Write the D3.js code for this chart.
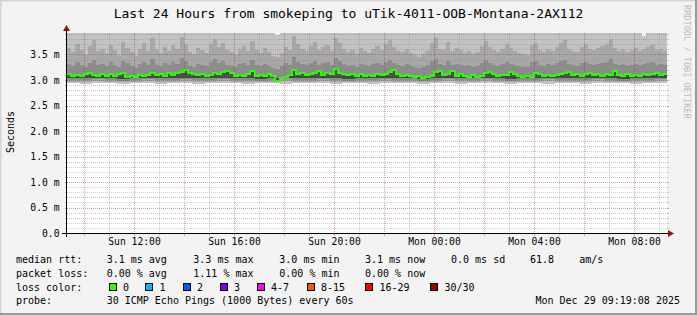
<!DOCTYPE html>
<html>
<head>
<meta charset="utf-8">
<script src="https://cdn.jsdelivr.net/npm/d3@7"></script>
<style>
html, body { margin: 0; padding: 0; background: #f3f3f3; }
svg { display: block; font-family: "DejaVu Sans Mono", monospace; }
</style>
</head>
<body>
<div id="chart"></div>
<script>
// ---- data ----
const title = 'Last 24 Hours from smokeping to uTik-4011-OOB-Montana-2AX112';
const startTime = '2025-12-28T09:19:08Z';
const endTime = '2025-12-29T09:19:08Z';
const stampText = 'Mon Dec 29 09:19:08 2025';

// median rtt in ms, one value per 10 minutes
const medianRtt = [
  3.11,3.08,3.10,3.07,3.11,3.14,3.10,3.08,3.11,3.08,
  3.12,3.08,3.11,3.14,3.06,3.08,3.05,3.09,3.07,3.10,
  3.14,3.09,3.11,3.08,3.13,3.10,3.13,3.16,3.20,3.14,
  3.12,3.09,3.11,3.08,3.10,3.14,3.11,3.15,3.17,3.13,
  3.07,3.10,3.08,3.12,3.17,3.08,3.10,3.07,3.11,3.07,
  2.99,3.03,3.06,3.10,3.19,3.11,3.13,3.10,3.12,3.14,
  3.17,3.09,3.13,3.11,3.22,3.14,3.11,3.09,3.11,3.07,
  3.11,3.08,3.10,3.08,3.11,3.09,3.12,3.15,3.19,3.11,
  3.08,3.10,3.07,3.05,3.07,3.03,3.06,3.08,3.15,3.18,
  3.10,3.12,3.17,3.08,3.11,3.08,3.06,3.09,3.05,3.08,
  3.13,3.16,3.11,3.08,3.10,3.09,3.15,3.11,3.08,3.05,
  3.08,3.05,3.14,3.12,3.08,3.10,3.07,3.09,3.11,3.14,
  3.16,3.09,3.11,3.07,3.12,3.14,3.09,3.11,3.08,3.12,
  3.10,3.18,3.10,3.08,3.11,3.07,3.10,3.08,3.11,3.09,
  3.12,3.14,3.09,3.11
];

// smoke: upper ping percentiles, one value per 10 minutes
const smokeP75 = [
  3.32,3.28,3.36,3.30,3.25,3.34,3.40,3.29,3.31,3.27,
  3.35,3.30,3.26,3.38,3.33,3.28,3.24,3.31,3.36,3.29,
  3.42,3.30,3.27,3.33,3.29,3.35,3.31,3.44,3.37,3.28,
  3.26,3.32,3.30,3.27,3.36,3.41,3.33,3.38,3.30,3.28,
  3.25,3.31,3.34,3.29,3.39,3.30,3.27,3.32,3.28,3.24,
  3.22,3.27,3.33,3.30,3.45,3.36,3.31,3.29,3.34,3.38,
  3.30,3.33,3.35,3.29,3.43,3.37,3.31,3.28,3.30,3.26,
  3.32,3.29,3.27,3.31,3.34,3.30,3.36,3.40,3.33,3.29,
  3.28,3.31,3.27,3.25,3.23,3.26,3.29,3.37,3.42,3.31,
  3.30,3.38,3.29,3.32,3.30,3.27,3.29,3.26,3.28,3.34,
  3.39,3.33,3.30,3.28,3.31,3.36,3.32,3.29,3.27,3.26,
  3.25,3.35,3.37,3.30,3.28,3.31,3.29,3.33,3.37,3.40,
  3.31,3.29,3.28,3.33,3.36,3.31,3.30,3.32,3.34,3.36,
  3.41,3.32,3.29,3.31,3.28,3.30,3.32,3.29,3.31,3.33,
  3.35,3.30,3.31,3.29
];
const smokeP90 = [
  3.62,3.55,3.70,3.58,3.49,3.66,3.78,3.57,3.60,3.52,
  3.68,3.59,3.50,3.74,3.63,3.55,3.48,3.61,3.72,3.56,
  3.82,3.58,3.53,3.64,3.57,3.69,3.60,3.85,3.71,3.54,
  3.51,3.63,3.58,3.52,3.70,3.80,3.64,3.73,3.59,3.55,
  3.49,3.60,3.67,3.57,3.76,3.59,3.53,3.62,3.55,3.47,
  3.45,3.53,3.65,3.58,3.86,3.70,3.61,3.56,3.66,3.74,
  3.58,3.64,3.69,3.56,3.83,3.72,3.60,3.55,3.59,3.51,
  3.63,3.57,3.52,3.61,3.67,3.58,3.70,3.79,3.64,3.56,
  3.54,3.61,3.53,3.49,3.46,3.51,3.57,3.73,3.82,3.61,
  3.59,3.75,3.56,3.63,3.58,3.53,3.57,3.51,3.55,3.66,
  3.77,3.65,3.59,3.55,3.61,3.71,3.63,3.57,3.53,3.51,
  3.49,3.69,3.73,3.59,3.55,3.61,3.57,3.65,3.73,3.79,
  3.61,3.57,3.55,3.65,3.71,3.61,3.59,3.63,3.67,3.71,
  3.81,3.63,3.57,3.61,3.55,3.59,3.63,3.57,3.61,3.65,
  3.69,3.59,3.61,3.57
];
const smokeMax = [
  4.21,4.05,4.38,3.98,3.94,4.12,4.55,4.02,4.17,3.96,
  4.30,4.08,3.95,4.44,4.15,4.01,3.93,4.10,4.36,4.04,
  4.62,4.06,3.97,4.19,4.03,4.27,4.09,4.70,4.33,4.00,
  3.96,4.14,4.05,3.97,4.31,4.58,4.18,4.40,4.07,4.01,
  3.94,4.09,4.24,4.04,4.47,4.08,3.98,4.13,4.02,3.97,
  3.88,3.99,4.22,4.06,4.73,4.35,4.11,4.03,4.26,4.42,
  4.05,4.20,4.29,4.03,4.65,4.39,4.10,4.01,4.07,3.95,
  4.16,4.04,3.97,4.11,4.23,4.06,4.32,4.52,4.19,4.03,
  3.99,4.11,3.98,3.93,3.96,3.96,4.04,4.41,4.63,4.11,
  4.08,4.45,4.03,4.17,4.06,3.97,4.04,3.95,4.01,4.25,
  4.49,4.21,4.08,4.01,4.12,4.34,4.18,4.05,3.98,3.95,
  3.92,4.28,4.38,4.08,4.01,4.12,4.04,4.21,4.39,4.51,
  4.12,4.04,4.01,4.21,4.33,4.12,4.08,4.16,4.24,4.33,
  4.55,4.16,4.04,4.12,4.01,4.08,4.16,4.04,3.86,4.20,
  4.28,4.08,4.12,4.04
];

// smoke: lower ping percentiles, one value per 30 minutes
const smokeMin = [
  2.94,2.93,2.94,2.95,2.93,2.94,2.94,2.93,2.95,2.94,2.93,2.94,
  2.94,2.95,2.93,2.94,2.94,2.93,2.94,2.95,2.94,2.93,2.94,2.94,
  2.93,2.94,2.95,2.94,2.93,2.94,2.94,2.93,2.94,2.95,2.94,2.93,
  2.94,2.94,2.93,2.95,2.94,2.93,2.94,2.94,2.95,2.93,2.94,2.94
];
const smokeP10 = [
  2.97,2.97,2.98,2.97,2.96,2.97,2.98,2.97,2.97,2.98,2.97,2.97,
  2.98,2.97,2.97,2.96,2.97,2.98,2.97,2.97,2.98,2.97,2.96,2.97,
  2.97,2.98,2.97,2.97,2.96,2.97,2.98,2.97,2.97,2.98,2.97,2.96,
  2.97,2.97,2.98,2.97,2.97,2.97,2.98,2.97,2.96,2.97,2.97,2.98
];
const smokeP25 = [
  3.00,3.00,3.01,3.00,2.99,3.00,3.01,3.00,3.00,3.01,3.00,3.00,
  3.01,3.00,3.00,2.99,3.00,3.01,3.00,3.00,3.01,3.00,2.99,3.00,
  3.00,3.01,3.00,3.00,2.99,3.00,3.01,3.00,3.00,3.01,3.00,2.99,
  3.00,3.00,3.01,3.00,3.00,3.00,3.01,3.00,2.99,3.00,3.00,3.01
];
const smokeP40 = [
  3.03,3.03,3.04,3.03,3.02,3.03,3.04,3.04,3.03,3.04,3.03,3.03,
  3.04,3.03,3.03,3.02,3.03,3.04,3.03,3.03,3.04,3.03,3.02,3.03,
  3.03,3.04,3.03,3.03,3.02,3.03,3.04,3.03,3.03,3.04,3.03,3.02,
  3.03,3.03,3.04,3.03,3.03,3.03,3.04,3.03,3.02,3.03,3.03,3.04
];

// legend
const rttStats = ['3.1 ms avg', '3.3 ms max', '3.0 ms min', '3.1 ms now', '0.0 ms sd', '61.8', 'am/s'];
const lossStats = ['0.00 % avg', '1.11 % max', '0.00 % min', '0.00 % now'];
const lossLabels = ['0', '1', '2', '3', '4-7', '8-15', '16-29', '30/30'];
const probeText = '30 ICMP Echo Pings (1000 Bytes) every 60s';

// ---- styles / layout ----
const W = 697, H = 315;
const plot = { left: 67, right: 667, top: 33, bottom: 233 };
const yTop = 200 / 51;  // ms at top edge of canvas
const lossColors = ['#26ff00', '#00b8ff', '#0059ff', '#7e00ff', '#ff00ff', '#ff5500', '#ff0000', '#a00000'];
const smokeShades = ['#c2c2c2', '#a8a8a8', '#8c8c8c', '#484848'];
const statX = [106.7, 193.3, 279.3, 365, 451, 530, 579.3];
const boxX = [108.5, 145, 182.5, 219.5, 256.5, 306.5, 365, 430];
const gridMinor = 'rgba(140,140,140,0.45)';
const gridMajor = 'rgba(170,40,40,0.45)';
const arrowColor = '#9b1010';

const svg = d3.select('#chart').append('svg')
    .attr('width', W)
    .attr('height', H);

// background + 3d frame
svg.append('rect').attr('width', W).attr('height', H).attr('fill', '#f3f3f3');
svg.append('path').attr('d', `M0.5,${H} V0.5 H${W}`).attr('stroke', '#d4d4d4').attr('stroke-width', 2).attr('fill', 'none');
svg.append('path').attr('d', `M0,${H - 1} H${W - 1} V0`).attr('stroke', '#9a9a9a').attr('stroke-width', 2).attr('fill', 'none');

const t0 = new Date(startTime), t1 = new Date(endTime);
const x = d3.scaleUtc().domain([t0, t1]).range([plot.left, plot.right]);
const y = d3.scaleLinear().domain([0, yTop]).range([plot.bottom, plot.top]);

// canvas
svg.append('rect')
    .attr('x', plot.left).attr('y', plot.top)
    .attr('width', plot.right - plot.left).attr('height', plot.bottom - plot.top)
    .attr('fill', '#ffffff');

// merge the series into rows, last row repeated so the steps reach the end
const n = medianRtt.length;
const stepMs = (t1 - t0) / n;
const lowIdx = i => Math.min(smokeMin.length - 1, Math.floor(i * smokeMin.length / n));
const rows = d3.range(n + 1).map(k => {
    const i = Math.min(k, n - 1);
    return {
        t: new Date(+t0 + k * stepMs),
        med: medianRtt[i], p75: smokeP75[i], p90: smokeP90[i], max: smokeMax[i],
        min: smokeMin[lowIdx(i)], p10: smokeP10[lowIdx(i)], p25: smokeP25[lowIdx(i)], p40: smokeP40[lowIdx(i)]
    };
});

const clip = v => Math.min(v, yTop);
const band = (lo, hi) => d3.area()
    .curve(d3.curveStepAfter)
    .x(d => x(d.t))
    .y0(d => y(clip(d[lo])))
    .y1(d => y(clip(d[hi])));

const smoke = svg.append('g').attr('shape-rendering', 'crispEdges');
[['min', 'max'], ['p10', 'p90'], ['p25', 'p75'], ['p40', 'med']]
    .forEach(([lo, hi], k) => {
        smoke.append('path').datum(rows).attr('d', band(lo, hi)).attr('fill', smokeShades[k]);
    });

// grid
const grid = svg.append('g').attr('shape-rendering', 'crispEdges');
const px = v => Math.round(v) + 0.5;
const majorY = y.ticks(8);
const minorY = y.ticks(40).filter(v => !majorY.some(m => Math.abs(m - v) < 1e-9));
const hLine = (v, c) => {
    const yy = px(y(v));
    grid.append('line').attr('x1', plot.left).attr('x2', plot.right).attr('y1', yy).attr('y2', yy)
        .attr('stroke', c).attr('stroke-dasharray', '1,1');
    grid.append('line').attr('x1', plot.left - 2).attr('x2', plot.left).attr('y1', yy).attr('y2', yy).attr('stroke', c);
    grid.append('line').attr('x1', plot.right).attr('x2', plot.right + 2).attr('y1', yy).attr('y2', yy).attr('stroke', c);
};
minorY.forEach(v => hLine(v, gridMinor));
majorY.filter(v => v > 0).forEach(v => hLine(v, gridMajor));

const majorX = x.ticks(d3.utcHour.every(2));
const minorX = x.ticks(d3.utcHour.every(1)).filter(t => t.getUTCHours() % 2 === 1);
[[minorX, gridMinor], [majorX, gridMajor]].forEach(([ts, c]) => {
    ts.forEach(t => {
        const xx = px(x(t));
        grid.append('line').attr('x1', xx).attr('x2', xx).attr('y1', plot.top).attr('y2', plot.bottom)
            .attr('stroke', c).attr('stroke-dasharray', '1,1');
        grid.append('line').attr('x1', xx).attr('x2', xx).attr('y1', plot.bottom).attr('y2', plot.bottom + 3)
            .attr('stroke', c);
    });
});

// median line
svg.append('path').datum(rows)
    .attr('d', d3.line().curve(d3.curveStepAfter).x(d => x(d.t)).y(d => y(d.med)))
    .attr('fill', 'none')
    .attr('stroke', lossColors[0])
    .attr('stroke-width', 2)
    .attr('shape-rendering', 'crispEdges');

// axes lines + arrows
const axes = svg.append('g').attr('shape-rendering', 'crispEdges');
axes.append('line').attr('x1', plot.left - 5).attr('x2', plot.right + 2).attr('y1', plot.bottom + 0.5).attr('y2', plot.bottom + 0.5).attr('stroke', '#000');
axes.append('line').attr('x1', plot.left - 0.5).attr('x2', plot.left - 0.5).attr('y1', plot.bottom + 4).attr('y2', plot.top - 2).attr('stroke', '#000');
svg.append('path').attr('d', `M${plot.right + 1},${plot.bottom - 3} L${plot.right + 7},${plot.bottom + 0.5} L${plot.right + 1},${plot.bottom + 4} Z`).attr('fill', arrowColor);
svg.append('path').attr('d', `M${plot.left - 4},${plot.top - 2} L${plot.left - 0.5},${plot.top - 8} L${plot.left + 3},${plot.top - 2} Z`).attr('fill', arrowColor);

// tick labels via d3 axes
const xAxis = d3.axisBottom(x)
    .ticks(d3.utcHour.every(4))
    .tickFormat(d3.utcFormat('%a %H:%M'))
    .tickSize(0)
    .tickPadding(5.3);
const gx = svg.append('g').attr('transform', `translate(0,${plot.bottom})`).call(xAxis);
gx.select('.domain').remove();
gx.selectAll('text').attr('font-family', '"DejaVu Sans Mono", monospace').attr('font-size', 9.7).attr('fill', '#000');

const yAxis = d3.axisLeft(y)
    .tickValues(majorY)
    .tickFormat(d => d === 0 ? '0.0' : d3.format('.1f')(d) + ' m')
    .tickSize(0)
    .tickPadding(7.5);
const gy = svg.append('g').attr('transform', `translate(${plot.left},0)`).call(yAxis);
gy.select('.domain').remove();
gy.selectAll('text').attr('font-family', '"DejaVu Sans Mono", monospace').attr('font-size', 9.7).attr('fill', '#000');

// title, vertical label, watermark
svg.append('text').attr('x', W / 2).attr('y', 18).attr('text-anchor', 'middle')
    .attr('font-size', 13).attr('fill', '#000').text(title);
svg.append('text').attr('transform', 'translate(14,132) rotate(-90)').attr('text-anchor', 'middle')
    .attr('font-size', 10).attr('fill', '#000').text('Seconds');
svg.append('text').attr('transform', 'translate(683.5,5) rotate(90)')
    .attr('font-size', 8.6).attr('fill', '#bcbcbc').text('RRDTOOL / TOBI OETIKER');

// legend
const legend = svg.append('g').attr('font-size', 10).attr('fill', '#000');
const rowY = [262.5, 276.5, 290.5, 304];
legend.append('text').attr('x', 16).attr('y', rowY[0]).text('median rtt:');
rttStats.forEach((s, i) => legend.append('text').attr('x', statX[i]).attr('y', rowY[0]).text(s));
legend.append('text').attr('x', 16).attr('y', rowY[1]).text('packet loss:');
lossStats.forEach((s, i) => legend.append('text').attr('x', statX[i]).attr('y', rowY[1]).text(s));
legend.append('text').attr('x', 16).attr('y', rowY[2]).text('loss color:');
lossLabels.forEach((s, i) => {
    legend.append('rect').attr('x', boxX[i] + 0.5).attr('y', 283.5).attr('width', 7).attr('height', 7)
        .attr('fill', lossColors[i]).attr('stroke', '#000').attr('shape-rendering', 'crispEdges');
    legend.append('text').attr('x', boxX[i] + 14.5).attr('y', rowY[2]).text(s);
});
legend.append('text').attr('x', 16).attr('y', rowY[3]).text('probe:');
legend.append('text').attr('x', statX[0]).attr('y', rowY[3]).text(probeText);
legend.append('text').attr('x', 680).attr('y', rowY[3]).attr('text-anchor', 'end').text(stampText);
</script>
</body>
</html>
